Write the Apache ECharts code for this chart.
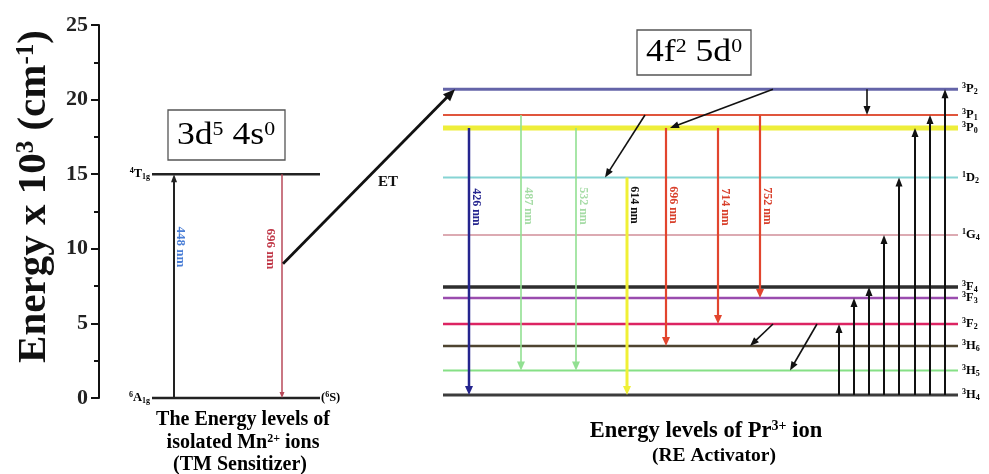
<!DOCTYPE html>
<html><head><meta charset="utf-8">
<script src="https://cdn.jsdelivr.net/npm/echarts@6/dist/echarts.min.js"></script>
<style>html,body{margin:0;padding:0;background:#fff}#c{width:989px;height:474px}</style>
</head><body><div id="c"></div>
<script>
// ---------------- DATA ----------------
const yTicks = [0, 5, 10, 15, 20, 25];
const mnLevelNames = ['4T1g', '6A1g'];
const mnLevelEnergies = [15.0, 0.0];
const prLevelNames = ['3P2', '3P1', '3P0', '1D2', '1G4', '3F4', '3F3', '3F2', '3H6', '3H5', '3H4'];
const prLevelEnergies = [20.7, 18.97, 18.1, 14.78, 10.92, 7.44, 6.7, 4.96, 3.49, 1.84, 0.2];
const mnTransNm = [448, 696];
const mnTransFrom = ['6A1g', '4T1g'];
const mnTransTo = ['4T1g', '6A1g'];
const prEmissionNm = [426, 487, 532, 614, 696, 714, 752];
const prEmissionFrom = ['3P0', '3P1', '3P0', '1D2', '3P0', '3P0', '3P1'];
const prEmissionTo = ['3H4', '3H5', '3H5', '3H4', '3H6', '3F2', '3F3'];
const prAbsorptionFrom = '3H4';
const prAbsorptionTo = ['3F2', '3F3', '3F4', '1G4', '1D2', '3P0', '3P1', '3P2'];
const nonRadFrom = ['3P2', '3P2', '3P1', '3F2', '3F2'];
const nonRadTo = ['3P1', '3P0', '1D2', '3H6', '3H5'];
const etFromEnergy = 9.0;
const etTo = '3P2';

// ---------------- LAYOUT / STYLE ----------------
const FONT = 'Liberation Serif';
const L = {
  axisX: 99,
  mnX1: 152, mnX2: 320, mnArrowX: [174, 282], mnLabelX: [180, 270], mnLabelY: [247, 249],
  prX1: 443, prX2: 958,
  emX: [469, 521, 576, 627, 666, 718, 760], emLabelY: [207, 206, 206, 205, 205, 207, 206],
  abX: [839, 854, 869, 884, 899, 915, 930, 945],
  nrX: [[867, 867], [773, 670], [645, 605], [773, 750], [817, 790]],
  etX: [283, 455]
};
const prLevelColors = ['#6464a8', '#e0553c', '#eeee3a', '#86d4d4', '#dcaab2', '#2e2e2e', '#9a4cae', '#dc2462', '#4e4430', '#86e086', '#3c3c3c'];
const prLevelWidths = [3, 2, 5, 2, 2, 3.5, 2.5, 2.5, 2.5, 2, 3];
const emColors = ['#24248e', '#92e092', '#92e092', '#f0f036', '#e2452e', '#e2452e', '#e2452e'];
const emWidths = [2.5, 1.6, 1.6, 3, 2.2, 2.2, 2.2];
const emLabelColors = ['#24248e', '#a6dca6', '#a6dca6', '#111', '#d8402c', '#d8402c', '#d8402c'];
const mnColors = ['#222', '#b84a5a'];
const mnLabelColors = ['#4a7ed6', '#c03848'];

const X = px => px - L.axisX;
const allNames = mnLevelNames.concat(prLevelNames);
const allE = mnLevelEnergies.concat(prLevelEnergies);
const E = n => allE[allNames.indexOf(n)];

// segments
const segs = [];
mnLevelNames.forEach((n, i) => segs.push({ v: [X(L.mnX1), mnLevelEnergies[i], X(L.mnX2), mnLevelEnergies[i]], color: '#222', width: 2.5 }));
prLevelNames.forEach((n, i) => segs.push({ v: [X(L.prX1), prLevelEnergies[i], X(L.prX2), prLevelEnergies[i]], color: prLevelColors[i], width: prLevelWidths[i] }));
mnTransNm.forEach((nm, i) => segs.push({ v: [X(L.mnArrowX[i]), E(mnTransFrom[i]), X(L.mnArrowX[i]), E(mnTransTo[i])], color: mnColors[i], width: i ? 1.5 : 2, arrow: true, hl: i ? 6 : 8, hw: i ? 2.5 : 3 }));
prEmissionNm.forEach((nm, i) => segs.push({ v: [X(L.emX[i]), E(prEmissionFrom[i]), X(L.emX[i]), E(prEmissionTo[i])], color: emColors[i], width: emWidths[i], arrow: true, hl: 9, hw: 4 }));
prAbsorptionTo.forEach((t, i) => segs.push({ v: [X(L.abX[i]), E(prAbsorptionFrom), X(L.abX[i]), E(t)], color: '#111', width: 2, arrow: true, hl: 9, hw: 3.5 }));
nonRadFrom.forEach((f, i) => segs.push({ v: [X(L.nrX[i][0]), E(f), X(L.nrX[i][1]), E(nonRadTo[i])], color: '#111', width: 1.6, arrow: true, hl: 9, hw: 3.5 }));
segs.push({ v: [X(L.etX[0]), etFromEnergy, X(L.etX[1]), E(etTo)], color: '#111', width: 2.8, arrow: true, hl: 12, hw: 5 });

// level labels
const lvlRich = {
  sup: { fontSize: 8, fontWeight: 'bold', fontFamily: FONT, verticalAlign: 'top', color: '#222' },
  m: { fontSize: 12.5, fontWeight: 'bold', fontFamily: FONT, lineHeight: 14, color: '#222' },
  sub: { fontSize: 8, fontWeight: 'bold', fontFamily: FONT, verticalAlign: 'bottom', color: '#222' }
};
const richLabel = n => '{sup|' + n[0] + '}{m|' + n[1] + '}{sub|' + n.slice(2) + '}';
const texts = [];
mnLevelNames.forEach((n, i) => texts.push({ v: [X(L.mnX1 - 2), mnLevelEnergies[i]], text: richLabel(n), align: 'right' }));
texts.push({ v: [X(L.mnX2 + 1), E('6A1g')], text: '{m|(}{sup|6}{m|S)}', align: 'left' });
prLevelNames.forEach((n, i) => texts.push({ v: [X(L.prX2 + 4), prLevelEnergies[i]], text: richLabel(n), align: 'left' }));

const chart = echarts.init(document.getElementById('c'));

const supRich = (size) => ({
  b: { fontSize: size, fontFamily: FONT, color: '#111' },
  bb: { fontSize: size, fontFamily: FONT, fontWeight: 'bold', color: '#111' },
  s: { fontSize: Math.round(size * 0.62), fontFamily: FONT, verticalAlign: 'top', color: '#111' },
  sb: { fontSize: Math.round(size * 0.62), fontFamily: FONT, fontWeight: 'bold', verticalAlign: 'top', color: '#111' }
});

const graphics = [];
// rotated wavelength labels
mnTransNm.forEach((nm, i) => graphics.push({ type: 'text', x: L.mnLabelX[i], y: L.mnLabelY[i], rotation: -Math.PI / 2,
  style: { text: nm + ' nm', fill: mnLabelColors[i], fontSize: 13, fontFamily: FONT, fontWeight: 'bold', align: 'center', verticalAlign: 'middle' } }));
prEmissionNm.forEach((nm, i) => graphics.push({ type: 'text', x: L.emX[i] + 7, y: L.emLabelY[i], rotation: -Math.PI / 2,
  style: { text: nm + ' nm', fill: emLabelColors[i], fontSize: 12, fontFamily: FONT, fontWeight: 'bold', align: 'center', verticalAlign: 'middle' } }));
// boxes
graphics.push({ type: 'rect', shape: { x: 168, y: 110, width: 117, height: 50 }, style: { fill: 'none', stroke: '#555', lineWidth: 1.3 } });
graphics.push({ type: 'text', x: 226, y: 136, scaleX: 1.15, style: { text: '{b|3d}{s|5}{b| 4s}{s|0}', rich: supRich(31), align: 'center', verticalAlign: 'middle' } });
graphics.push({ type: 'rect', shape: { x: 637, y: 30, width: 114, height: 45 }, style: { fill: 'none', stroke: '#555', lineWidth: 1.3 } });
graphics.push({ type: 'text', x: 694, y: 53, scaleX: 1.15, style: { text: '{b|4f}{s|2}{b| 5d}{s|0}', rich: supRich(31), align: 'center', verticalAlign: 'middle' } });
graphics.push({ type: 'text', x: 388, y: 182, style: { text: 'ET', fill: '#111', fontSize: 15, fontWeight: 'bold', fontFamily: FONT, align: 'center', verticalAlign: 'middle' } });
// captions
const cap = (x, y, text, size) => graphics.push({ type: 'text', x: x, y: y, style: { text: text, rich: supRich(size), align: 'center', verticalAlign: 'middle' } });
cap(243, 420, '{bb|The Energy levels of}', 20);
cap(243, 443, '{bb|isolated Mn}{sb|2+}{bb| ions}', 20);
cap(240, 465, '{bb|(TM Sensitizer)}', 20);
cap(706, 431, '{bb|Energy levels of Pr}{sb|3+}{bb| ion}', 22.5);
cap(714, 456, '{bb|(RE Activator)}', 19.5);

const option = {
  animation: false,
  backgroundColor: '#fff',
  grid: { left: L.axisX, right: 0, top: 25, bottom: 76 },
  xAxis: { type: 'value', min: 0, max: 890, show: false },
  yAxis: {
    type: 'value', min: 0, max: 25, interval: 5,
    axisLine: { show: true, lineStyle: { color: '#111', width: 2 } },
    axisTick: { show: true, length: 8, lineStyle: { color: '#111', width: 2 } },
    minorTick: { show: true, splitNumber: 2, length: 5, lineStyle: { color: '#111', width: 2 } },
    splitLine: { show: false },
    axisLabel: { fontSize: 22, fontWeight: 'bold', fontFamily: FONT, color: '#222', margin: 11,
      formatter: v => (yTicks.indexOf(v) >= 0 ? String(v) : '') },
    name: '{bb|Energy x 10}{sb|3}{bb| (cm}{sb|-1}{bb|)}',
    nameLocation: 'middle', nameRotate: 90, nameGap: 44,
    nameTextStyle: { rich: supRich(41), padding: [0, 0, 0, 30] }
  },
  series: [
    {
      type: 'custom', clip: false, coordinateSystem: 'cartesian2d',
      encode: { x: [0, 2], y: [1, 3] },
      data: segs.map(s => s.v),
      renderItem: (params, api) => {
        const s = segs[params.dataIndex];
        const p1 = api.coord([api.value(0), api.value(1)]);
        const p2 = api.coord([api.value(2), api.value(3)]);
        const ch = [];
        if (s.arrow) {
          const dx = p2[0] - p1[0], dy = p2[1] - p1[1], len = Math.hypot(dx, dy);
          const ux = dx / len, uy = dy / len, hl = s.hl, hw = s.hw;
          const bx = p2[0] - ux * hl, by = p2[1] - uy * hl;
          const ex = bx + ux * 2, ey = by + uy * 2;
          ch.push({ type: 'line', shape: { x1: p1[0], y1: p1[1], x2: ex, y2: ey }, style: { stroke: s.color, lineWidth: s.width } });
          ch.push({ type: 'polygon', shape: { points: [[p2[0], p2[1]], [bx - uy * hw, by + ux * hw], [bx + uy * hw, by - ux * hw]] }, style: { fill: s.color } });
        } else {
          ch.push({ type: 'line', shape: { x1: p1[0], y1: p1[1], x2: p2[0], y2: p2[1] }, style: { stroke: s.color, lineWidth: s.width } });
        }
        return { type: 'group', children: ch };
      }
    },
    {
      type: 'custom', clip: false, coordinateSystem: 'cartesian2d',
      data: texts.map(t => t.v),
      renderItem: (params, api) => {
        const t = texts[params.dataIndex];
        const p = api.coord([api.value(0), api.value(1)]);
        return { type: 'text', x: p[0], y: p[1], style: { text: t.text, rich: lvlRich, align: t.align, verticalAlign: 'middle' } };
      }
    }
  ],
  graphic: graphics
};
chart.setOption(option);
</script></body></html>
